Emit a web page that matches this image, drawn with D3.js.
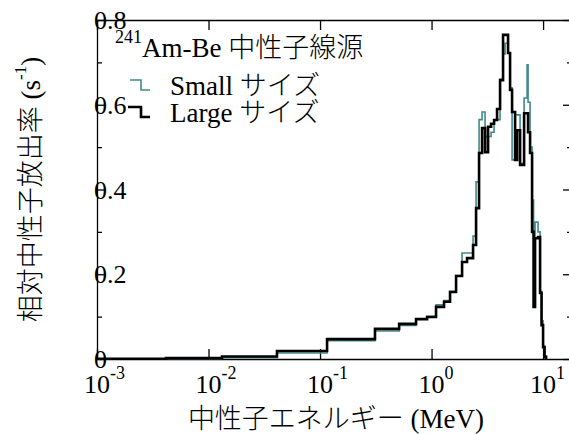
<!DOCTYPE html>
<html><head><meta charset="utf-8">
<script src="https://cdn.jsdelivr.net/npm/d3@7"></script>
<style>
html,body{margin:0;padding:0;background:#fff;}
svg{display:block;}
text{font-family:"Liberation Serif","Noto Sans CJK JP",serif;fill:#000;font-weight:300;}
</style></head><body>
<svg id="chart" width="569" height="434"></svg>
<script>
// ---- data (energy bin edges in MeV, relative emission rate per bin) ----
const binEdges = [0.001, 0.00416, 0.0132, 0.0411, 0.1156, 0.311, 0.512, 0.726, 0.912, 1.097,
  1.294, 1.465, 1.659, 1.878, 2.081, 2.356, 2.507, 2.667, 2.838, 3.019,
  3.212, 3.418, 3.636, 3.867, 4.115, 4.377, 4.563, 4.853, 5.059, 5.273,
  5.611, 5.848, 6.221, 6.485, 6.759, 7.045, 7.19, 7.335, 7.645, 7.969,
  8.22, 8.476, 9.016, 9.40, 9.69, 10.0, 10.31, 10.64];
const largeValues = [0.0005, 0.002, 0.006, 0.019, 0.047, 0.071, 0.083, 0.094, 0.099,
  0.123, 0.135, 0.158, 0.196, 0.229, 0.238, 0.269, 0.356, 0.486, 0.545, 0.488,
  0.548, 0.555, 0.564, 0.590, 0.658, 0.765, 0.765, 0.722, 0.635, 0.583,
  0.470, 0.540, 0.458, 0.458, 0.580, 0.580, 0.580, 0.535, 0.486, 0.300,
  0.123, 0.285, 0.288, 0.156, 0.080, 0.028, 0.005];
const smallValues = [0.0003, 0.001, 0.003, 0.014, 0.043, 0.066, 0.079, 0.095, 0.101,
  0.128, 0.138, 0.160, 0.197, 0.250, 0.250, 0.290, 0.418, 0.565, 0.583, 0.525,
  0.525, 0.535, 0.564, 0.565, 0.660, 0.720, 0.745, 0.722, 0.640, 0.470,
  0.576, 0.576, 0.462, 0.462, 0.616, 0.616, 0.694, 0.606, 0.500, 0.375,
  0.150, 0.323, 0.300, 0.160, 0.090, 0.030, 0.006];
const xTickValues = [1e-3, 1e-2, 1e-1, 1e0, 1e1];
const xTickExponents = ["-3", "-2", "-1", "0", "1"];
const yMajorTicks = [0, 0.2, 0.4, 0.6, 0.8];
const yMinorTicks = [0.1, 0.3, 0.5, 0.7];
const yTickLabels = ["0", "0.2", "0.4", "0.6", "0.8"];
const seriesNames = ["Small サイズ", "Large サイズ"];
const seriesColors = ["#428a8a", "#000000"];
const titleIsotope = "241";
const titleText = "Am-Be 中性子線源";
const xTitle = "中性子エネルギー (MeV)";
const yTitleMain = "相対中性子放出率 (s";
const yTitleSup = "-1";

(function () {
// ---- layout ----
const pL = 97, pR = 571, pT = 20, pB = 359;
const svg = d3.select("#chart");

const x = d3.scaleLog().domain([1e-3, 17.8]).range([pL, pR]);
const y = d3.scaleLinear().domain([0, 0.8]).range([pB, pT]);

const fs = 26;

// y tick labels (drawn first, ticks cross over them)
svg.append("g").selectAll("text").data(yMajorTicks).join("text")
  .attr("x", pL - 3).attr("y", d => y(d)).attr("dy", "0.35em")
  .attr("font-size", fs).attr("text-anchor", "start")
  .text((d, i) => yTickLabels[i]);

// axes
const axisStyle = g => { g.select(".domain").attr("stroke", "#000").attr("stroke-width", 1.3);
  g.selectAll(".tick line").attr("stroke", "#000").attr("stroke-width", 1.3);
  g.selectAll(".tick text").remove(); };

svg.append("g").attr("transform", `translate(0,${pB})`)
  .call(d3.axisBottom(x).tickValues(xTickValues).tickSizeInner(-10).tickSizeOuter(0).tickFormat(""))
  .call(axisStyle);
svg.append("g").attr("transform", `translate(0,${pT})`)
  .call(d3.axisTop(x).tickValues(xTickValues).tickSizeInner(-10).tickSizeOuter(0).tickFormat(""))
  .call(axisStyle);
svg.append("g").attr("transform", `translate(${pL},0)`)
  .call(d3.axisLeft(y).tickValues(yMajorTicks).tickSizeInner(-9).tickSizeOuter(0).tickFormat(""))
  .call(axisStyle);
svg.append("g").attr("transform", `translate(${pL},0)`)
  .call(d3.axisLeft(y).tickValues(yMinorTicks).tickSizeInner(-5).tickSizeOuter(0).tickFormat(""))
  .call(axisStyle).call(g => g.select(".domain").remove());
svg.append("g").attr("transform", `translate(${pR},0)`)
  .call(d3.axisRight(y).tickValues(yMajorTicks).tickSizeInner(-8).tickSizeOuter(0).tickFormat(""))
  .call(axisStyle);
svg.append("g").attr("transform", `translate(${pR},0)`)
  .call(d3.axisRight(y).tickValues(yMinorTicks).tickSizeInner(-4).tickSizeOuter(0).tickFormat(""))
  .call(axisStyle).call(g => g.select(".domain").remove());

// x tick labels 10^n
const xl = svg.append("g").selectAll("g").data(xTickValues).join("g")
  .attr("transform", d => `translate(${x(d)},0)`);
xl.append("text").attr("x", 0).attr("y", pB + 34).attr("text-anchor", "middle")
  .attr("font-size", fs).text("10");
xl.append("text").attr("x", 13).attr("y", pB + 20).attr("text-anchor", "start")
  .attr("font-size", 18).text((d, i) => xTickExponents[i]);

// histograms
const stepLine = d3.line().x(d => x(d[0])).y(d => y(d[1])).curve(d3.curveStepAfter);
function pts(vals) { return binEdges.map((e, i) => [e, i < vals.length ? vals[i] : 0]); }
svg.append("path").attr("d", stepLine(pts(smallValues))).attr("fill", "none")
  .attr("stroke", seriesColors[0]).attr("stroke-width", 1.6);
svg.append("path").attr("d", stepLine(pts(largeValues))).attr("fill", "none")
  .attr("stroke", seriesColors[1]).attr("stroke-width", 2.6);

// title
const t = svg.append("text").attr("x", 115).attr("y", 57).attr("font-size", 27);
t.append("tspan").attr("font-size", 18).attr("dy", -14).text(titleIsotope);
t.append("tspan").attr("dy", 14).text(titleText);

// legend
const legY = [80, 107];
const legW = [1.6, 2.6];
seriesNames.forEach((name, i) => {
  const y0 = legY[i];
  svg.append("path")
    .attr("d", `M${i === 0 ? 130 : 128},${y0}H141V${y0 + 10}H150`)
    .attr("fill", "none").attr("stroke", seriesColors[i]).attr("stroke-width", legW[i]);
  svg.append("text").attr("x", 170).attr("y", y0 + 15).attr("font-size", 27).text(name);
});

// axis titles
svg.append("text").attr("x", (pL + 541) / 2 + 17).attr("y", 428)
  .attr("text-anchor", "middle").attr("font-size", 27).text(xTitle);
const yt = svg.append("text").attr("transform", `translate(31,${(pT + pB) / 2}) rotate(-90)`)
  .attr("text-anchor", "middle").attr("dominant-baseline", "central").attr("font-size", 27);
yt.append("tspan").text(yTitleMain);
yt.append("tspan").attr("font-size", 17).attr("dy", -11).text(yTitleSup);
yt.append("tspan").attr("dy", 11).text(")");
})();
</script>
</body></html>
